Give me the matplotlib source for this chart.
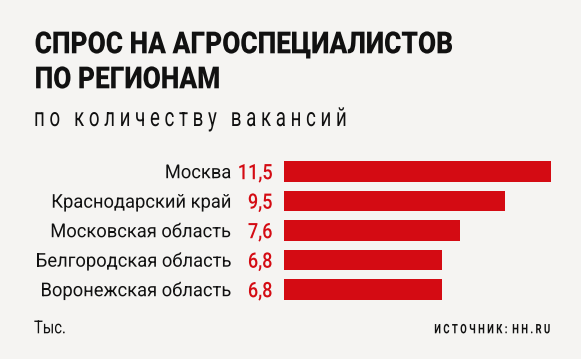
import matplotlib
matplotlib.use("Agg")
import matplotlib.pyplot as plt
from matplotlib.patheffects import AbstractPathEffect
from matplotlib.transforms import Affine2D

regions = ["Москва", "Краснодарский край", "Московская область",
           "Белгородская область", "Воронежская область"]
values = [11.5, 9.5, 7.6, 6.8, 6.8]
value_labels = ["11,5", "9,5", "7,6", "6,8", "6,8"]

title1 = "СПРОС НА АГРОСПЕЦИАЛИСТОВ"
title2 = "ПО РЕГИОНАМ"
subtitle = "по количеству вакансий"
unit = "Тыс."
source = "ИСТОЧНИК: HH.RU"

bg = "#f5f4f2"
red = "#d40b13"
ink = "#111111"
plt.rcParams["font.family"] = ["Roboto", "DejaVu Sans"]

W, H = 581, 359
fig = plt.figure(figsize=(W / 100, H / 100), dpi=100, facecolor=bg)


class Squeeze(AbstractPathEffect):
    # narrow the glyphs horizontally around x0 (display pixels)
    def __init__(self, sx, x0):
        super().__init__()
        self.sx = sx
        self.x0 = x0

    def draw_path(self, renderer, gc, tpath, affine, rgbFace=None):
        t = affine + Affine2D().translate(-self.x0, 0).scale(self.sx, 1).translate(self.x0, 0)
        renderer.draw_path(gc, tpath, t, rgbFace)


renderer = fig.canvas.get_renderer()


def fit(texts, ref, target, x0):
    sx = target / ref.get_window_extent(renderer).width
    for t in texts:
        t.set_path_effects([Squeeze(sx, x0)])


def ftext(x, y, s, **kw):
    # x, y in pixels from top-left, y is the baseline
    return fig.text(x / W, 1 - y / H, s, va="baseline", **kw)


# bars
top, bottom = 156.75, 304.25
ax = fig.add_axes([284 / W, (H - bottom) / H, 267 / W, (bottom - top) / H])
ax.set_facecolor(bg)
ax.barh(range(len(values)), values, height=0.695, color=red)
ax.set_xlim(0, 11.5)
ax.set_ylim(len(values) - 0.5, -0.5)
ax.axis("off")

name_texts, val_texts = [], []
for i, (r, v) in enumerate(zip(regions, value_labels)):
    name_texts.append(ax.annotate(r, xy=(0, i), xytext=(-52.5, -6.7),
                                  textcoords="offset pixels", ha="right",
                                  va="baseline", fontsize=13.7, color=ink))
    val_texts.append(ax.annotate(v, xy=(0, i), xytext=(-11.5, -7.7),
                                 textcoords="offset pixels", ha="right",
                                 va="baseline", fontsize=15.3, color=red,
                                 fontweight="medium"))

t1 = ftext(34.7, 53.3, title1, ha="left", fontsize=21.9, fontweight="black", color=ink)
t2 = ftext(34.7, 88.3, title2, ha="left", fontsize=21.9, fontweight="black", color=ink)
sub = ftext(34, 126, "   ".join(" ".join(w) for w in subtitle.split()),
            ha="left", fontsize=18.7, color=ink)
tu = ftext(34, 333.3, unit, ha="left", fontsize=12.9, color=ink)
ts = ftext(550, 333.3, " ".join(source).replace("   ", "  "), ha="right",
           fontsize=9.4, fontweight="bold", color=ink)

fig.canvas.draw()
fit([t1, t2], t1, 418, 34.7)
fit([sub], sub, 314, 34)
fit(name_texts, name_texts[3], 195.7, 231.5)
fit(val_texts, val_texts[3], 24.6, 272.5)
fit([tu], tu, 31.7, 34)
fit([ts], ts, 115.7, 550)

fig.savefig("out.png", dpi=100, facecolor=bg)
